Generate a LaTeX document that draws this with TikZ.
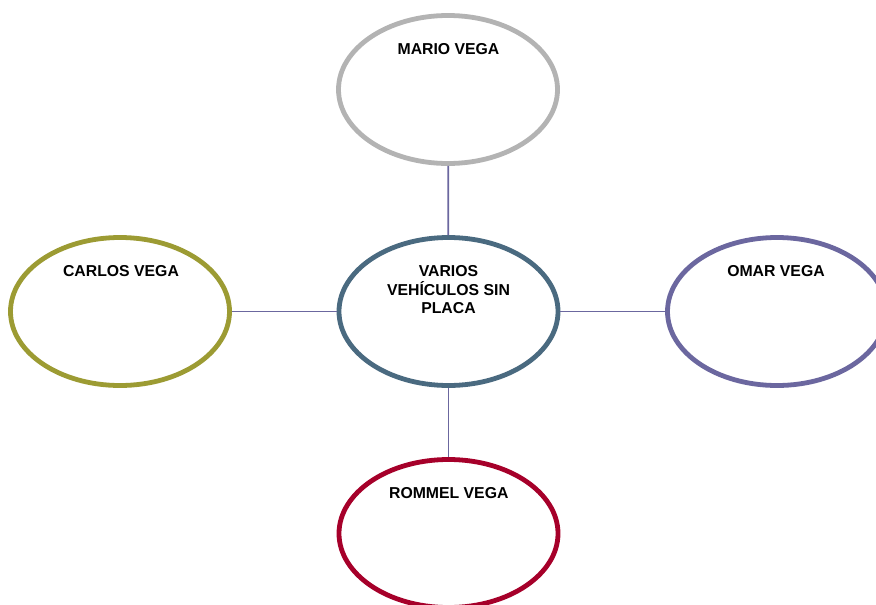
\documentclass[tikz,border=0pt]{standalone}
\usepackage{fontspec}
\setmainfont{Liberation Sans}
\usetikzlibrary{shapes.geometric}
\definecolor{cgray}{HTML}{B3B3B3}
\definecolor{cteal}{HTML}{4A6A80}
\definecolor{colive}{HTML}{9C9B33}
\definecolor{cpurple}{HTML}{6B679F}
\definecolor{cred}{HTML}{A6002A}
\definecolor{clink}{HTML}{6B679F}
\tikzset{
  oval/.style={ellipse, draw, line width=4.8pt, fill=white, minimum width=219pt, minimum height=148pt, inner sep=0pt},
  lbl/.style={font=\bfseries\fontsize{15.8}{18.5}\selectfont, inner sep=0pt, text=black},
  link/.style={draw=clink, line width=1.7pt}
}
\begin{document}
\begin{tikzpicture}[x=1pt,y=-1pt]
\useasboundingbox (0,0) rectangle (876,605);
\node[oval, draw=cgray] (mario) at (448,89.5) {};
\node[oval, draw=cteal] (ctr) at (448.5,311.5) {};
\node[oval, draw=colive] (carlos) at (120,311.5) {};
\node[oval, draw=cpurple] (omar) at (777,311.5) {};
\node[oval, draw=cred] (rommel) at (448.5,533.5) {};
\draw[link] (mario) -- (ctr);
\draw[link] (carlos) -- (ctr);
\draw[link] (ctr) -- (omar);
\draw[link] (ctr) -- (rommel);
\node[lbl, anchor=base] (tmario) at (448.5,54) {MARIO VEGA};
\node[lbl, anchor=base] (tcarlos) at (121,276.7) {CARLOS VEGA};
\node[lbl, anchor=base] (tomar) at (776,276.7) {OMAR VEGA};
\node[lbl, anchor=base] (trommel) at (448.8,498.3) {ROMMEL VEGA};
\node[lbl, anchor=north, align=center] (tctr) at (448.5,265.5) {VARIOS\\VEHÍCULOS SIN\\PLACA};
\end{tikzpicture}
\end{document}
